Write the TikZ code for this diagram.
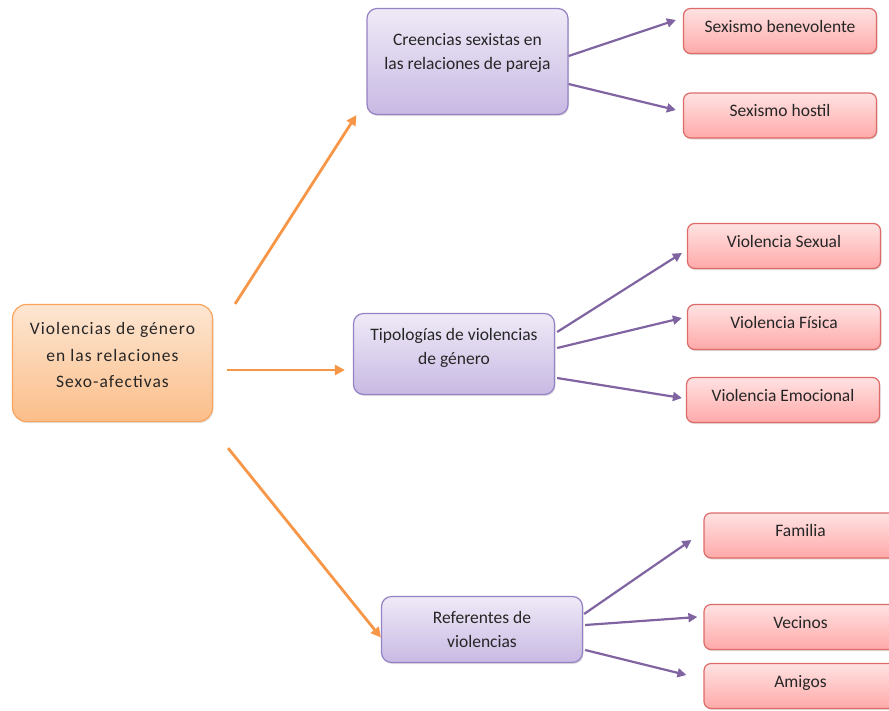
\documentclass[tikz,border=0pt]{standalone}
\usepackage{fontspec}
\setmainfont{Carlito}
\usetikzlibrary{arrows.meta,shadows}
\definecolor{txtgray}{HTML}{262626}
\definecolor{orgline}{HTML}{F9A55E}
\definecolor{orgtop}{HTML}{FDE6D2}
\definecolor{orgbot}{HTML}{FBBE8A}
\definecolor{orgarrow}{HTML}{F79646}
\definecolor{purline}{HTML}{9582C4}
\definecolor{purtop}{HTML}{EFEAF7}
\definecolor{purbot}{HTML}{C8B9E3}
\definecolor{purarrow}{HTML}{8064A2}
\definecolor{redline}{HTML}{DD6B68}
\definecolor{redtop}{HTML}{FFE2E2}
\definecolor{redbot}{HTML}{FFA9A9}

\begin{document}
\begin{tikzpicture}[x=1pt, y=-1pt,
every node/.style = {font=\fontsize{17.5}{24}\selectfont, text=txtgray, align=center},
       box/.style = {rounded corners=10pt, line width=1.2pt,
                     drop shadow={shadow xshift=1pt, shadow yshift=-1.5pt, opacity=0.25}},
      main/.style = {box, draw=orgline, top color=orgtop, bottom color=orgbot,
                     minimum width=200pt, minimum height=117pt, rounded corners=14pt,
                     font=\fontsize{17.5}{26.5}\selectfont\addfontfeature{LetterSpace=6}},
       sub/.style = {box, draw=purline, top color=purtop, bottom color=purbot,
                     minimum width=201pt},
      leaf/.style = {box, draw=redline, top color=redtop, bottom color=redbot,
                     minimum width=193pt, minimum height=45pt, rounded corners=7pt,
                     text height=12pt, text depth=10pt},
      oarr/.style = {draw=orgarrow, line width=2.8pt, -{Triangle[length=10pt,width=10pt]}},
      parr/.style = {draw=purarrow, line width=2.2pt, -{Triangle[length=9pt,width=9pt]}}
                    ]
\useasboundingbox (0,0) rectangle (889,710);

% main topic
\node[main, text depth=16pt] (root) at (112.5,363) {Violencias de género\\en las relaciones\\Sexo-afectivas};

% second level
\node[sub, minimum height=106pt, text depth=20pt] (creen) at (467.5,61.5) {Creencias sexistas en\\las relaciones de pareja};
\node[sub, minimum height=81pt, text depth=16pt]  (tipo)  at (454,354)    {Tipologías de violencias\\de género};
\node[sub, minimum height=66pt]  (refer) at (482,629.5)  {Referentes de\\violencias};

% leaves
\node[leaf] (benev)   at (780,31)      {Sexismo benevolente};
\node[leaf] (hostil)  at (780,115.5)   {Sexismo hostil};
\node[leaf] (sexual)  at (784,246)     {Violencia Sexual};
\node[leaf] (fisica)  at (784,327)     {Violencia Física};
\node[leaf] (emoc)    at (783,400)     {Violencia Emocional};
\node[leaf] (familia) at (800.5,535.5) {Familia};
\node[leaf] (vecinos) at (800.5,627)   {Vecinos};
\node[leaf] (amigos)  at (800.5,686)   {Amigos};

% orange arrows
\draw[oarr] ([shift={(22,0)}]root.north east) -- ([shift={(-10,0)}]creen.south west);
\draw[oarr] ([shift={(14,7)}]root.east)       -- ([shift={(-8,16)}]tipo.west);
\draw[oarr] ([shift={(15,26)}]root.south east) -- ([shift={(0,8)}]refer.west);

% purple arrows
\draw[parr] ([shift={(0,-5.5)}]creen.east) -- ([shift={(-7,-11)}]benev.west);
\draw[parr] ([shift={(0,22.5)}]creen.east) -- ([shift={(-7,-5.5)}]hostil.west);
\draw[parr] ([shift={(2,-22)}]tipo.east)   -- ([shift={(-5,7)}]sexual.west);
\draw[parr] ([shift={(2,-6)}]tipo.east)    -- ([shift={(-5,-9)}]fisica.west);
\draw[parr] ([shift={(2,24)}]tipo.east)    -- ([shift={(-4,-2)}]emoc.west);
\draw[parr] ([shift={(1,-15.5)}]refer.east) -- ([shift={(-12,4.5)}]familia.west);
\draw[parr] ([shift={(2,-4.5)}]refer.east)  -- ([shift={(-6,-10)}]vecinos.west);
\draw[parr] ([shift={(2,20.5)}]refer.east)  -- ([shift={(-17,-11)}]amigos.west);
\end{tikzpicture}
\end{document}
